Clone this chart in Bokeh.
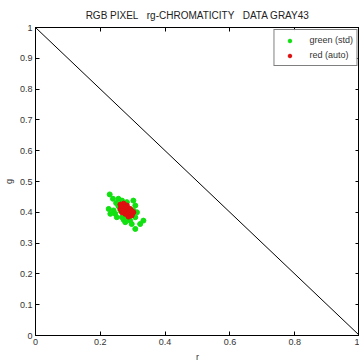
from bokeh.plotting import figure
from bokeh.models import FixedTicker, LinearAxis, Range1d, Legend, LegendItem, Title
from bokeh.embed import file_html
from bokeh.resources import INLINE

title_text = "RGB PIXEL\u00a0\u00a0\u00a0rg-CHROMATICITY\u00a0\u00a0\u00a0DATA GRAY43"
x_ticks = [0, 0.2, 0.4, 0.6, 0.8, 1]
x_labels = ["0", "0.2", "0.4", "0.6", "0.8", "1"]
y_ticks = [0, 0.1, 0.2, 0.3, 0.4, 0.5, 0.6, 0.7, 0.8, 0.9, 1]
y_labels = ["0", "0.1", "0.2", "0.3", "0.4", "0.5", "0.6", "0.7", "0.8", "0.9", "1"]

boundary_r = [0, 1]
boundary_g = [1, 0]

green_r = [0.229, 0.239, 0.249, 0.226, 0.241, 0.231, 0.246, 0.256, 0.267, 0.282,
           0.302, 0.308, 0.313, 0.308, 0.292, 0.277, 0.282, 0.267, 0.251, 0.333,
           0.323, 0.308, 0.297, 0.262, 0.302, 0.287, 0.272, 0.256]
green_g = [0.458, 0.444, 0.430, 0.411, 0.406, 0.395, 0.395, 0.444, 0.438, 0.433,
           0.438, 0.422, 0.400, 0.384, 0.373, 0.368, 0.390, 0.384, 0.384, 0.373,
           0.362, 0.346, 0.362, 0.406, 0.406, 0.378, 0.376, 0.420]

red_r = [0.262, 0.272, 0.282, 0.292, 0.302, 0.297, 0.287, 0.277, 0.267, 0.262,
         0.272, 0.282, 0.292, 0.277, 0.267, 0.287, 0.297, 0.272]
red_g = [0.425, 0.428, 0.422, 0.411, 0.400, 0.390, 0.386, 0.395, 0.400, 0.411,
         0.411, 0.406, 0.397, 0.417, 0.419, 0.400, 0.404, 0.404]

FONT = "Liberation Sans"

p = figure(width=359, height=364, output_backend="svg", toolbar_location=None,
           x_range=Range1d(0, 1), y_range=Range1d(0, 1),
           min_border_left=0, min_border_right=0, min_border_top=0, min_border_bottom=0)

p.title = Title(text=title_text, align="center", text_font=FONT, text_font_size="10px",
                text_font_style="normal", text_color="#222222", standoff=14)
p.grid.visible = False
p.outline_line_color = "black"
p.outline_line_width = 1

p.line(boundary_r, boundary_g, line_color="black", line_width=1)

gr = p.scatter(green_r, green_g, size=5, fill_color="#11e011", line_color="#11e011")
rd = p.scatter(red_r, red_g, size=5, fill_color="#dd0f0f", line_color="#dd0f0f")

for ax, ticks, labels in ((p.xaxis[0], x_ticks, x_labels), (p.yaxis[0], y_ticks, y_labels)):
    ax.ticker = FixedTicker(ticks=ticks)
    ax.major_label_overrides = {t: l for t, l in zip(ticks, labels)}
    ax.major_tick_in = 4
    ax.major_tick_out = 0
    ax.minor_tick_line_color = None
    ax.axis_line_color = "black"
    ax.major_tick_line_color = "black"
    ax.major_label_text_font = FONT
    ax.major_label_text_font_size = "9px"
    ax.major_label_text_color = "#333333"
    ax.axis_label_text_font = FONT
    ax.axis_label_text_font_size = "9px"
    ax.axis_label_text_font_style = "normal"
    ax.axis_label_text_color = "#333333"

p.xaxis[0].axis_label = "r"
p.yaxis[0].axis_label = "g"
p.xaxis[0].major_label_standoff = 3
p.yaxis[0].major_label_standoff = 3
p.xaxis[0].axis_label_standoff = 4
p.yaxis[0].axis_label_standoff = 3

top = LinearAxis(ticker=FixedTicker(ticks=x_ticks), major_label_text_color=None,
                 major_tick_in=4, major_tick_out=0, minor_tick_line_color=None,
                 axis_line_color="black", major_label_standoff=0)
right = LinearAxis(ticker=FixedTicker(ticks=y_ticks), major_label_text_color=None,
                   major_tick_in=4, major_tick_out=0, minor_tick_line_color=None,
                   axis_line_color="black", major_label_standoff=0)
p.add_layout(top, "above")
p.add_layout(right, "right")

legend = Legend(items=[LegendItem(label="green (std)", renderers=[gr]),
                       LegendItem(label="red (auto)", renderers=[rd])],
                location="top_right", label_text_font=FONT, label_text_font_size="9px",
                label_text_color="#333333", border_line_color="black",
                border_line_width=1, glyph_width=24, glyph_height=9, label_height=14,
                spacing=1, padding=3, margin=2, label_standoff=8)
p.add_layout(legend)

open("out.html", "w").write(file_html(p, INLINE))
